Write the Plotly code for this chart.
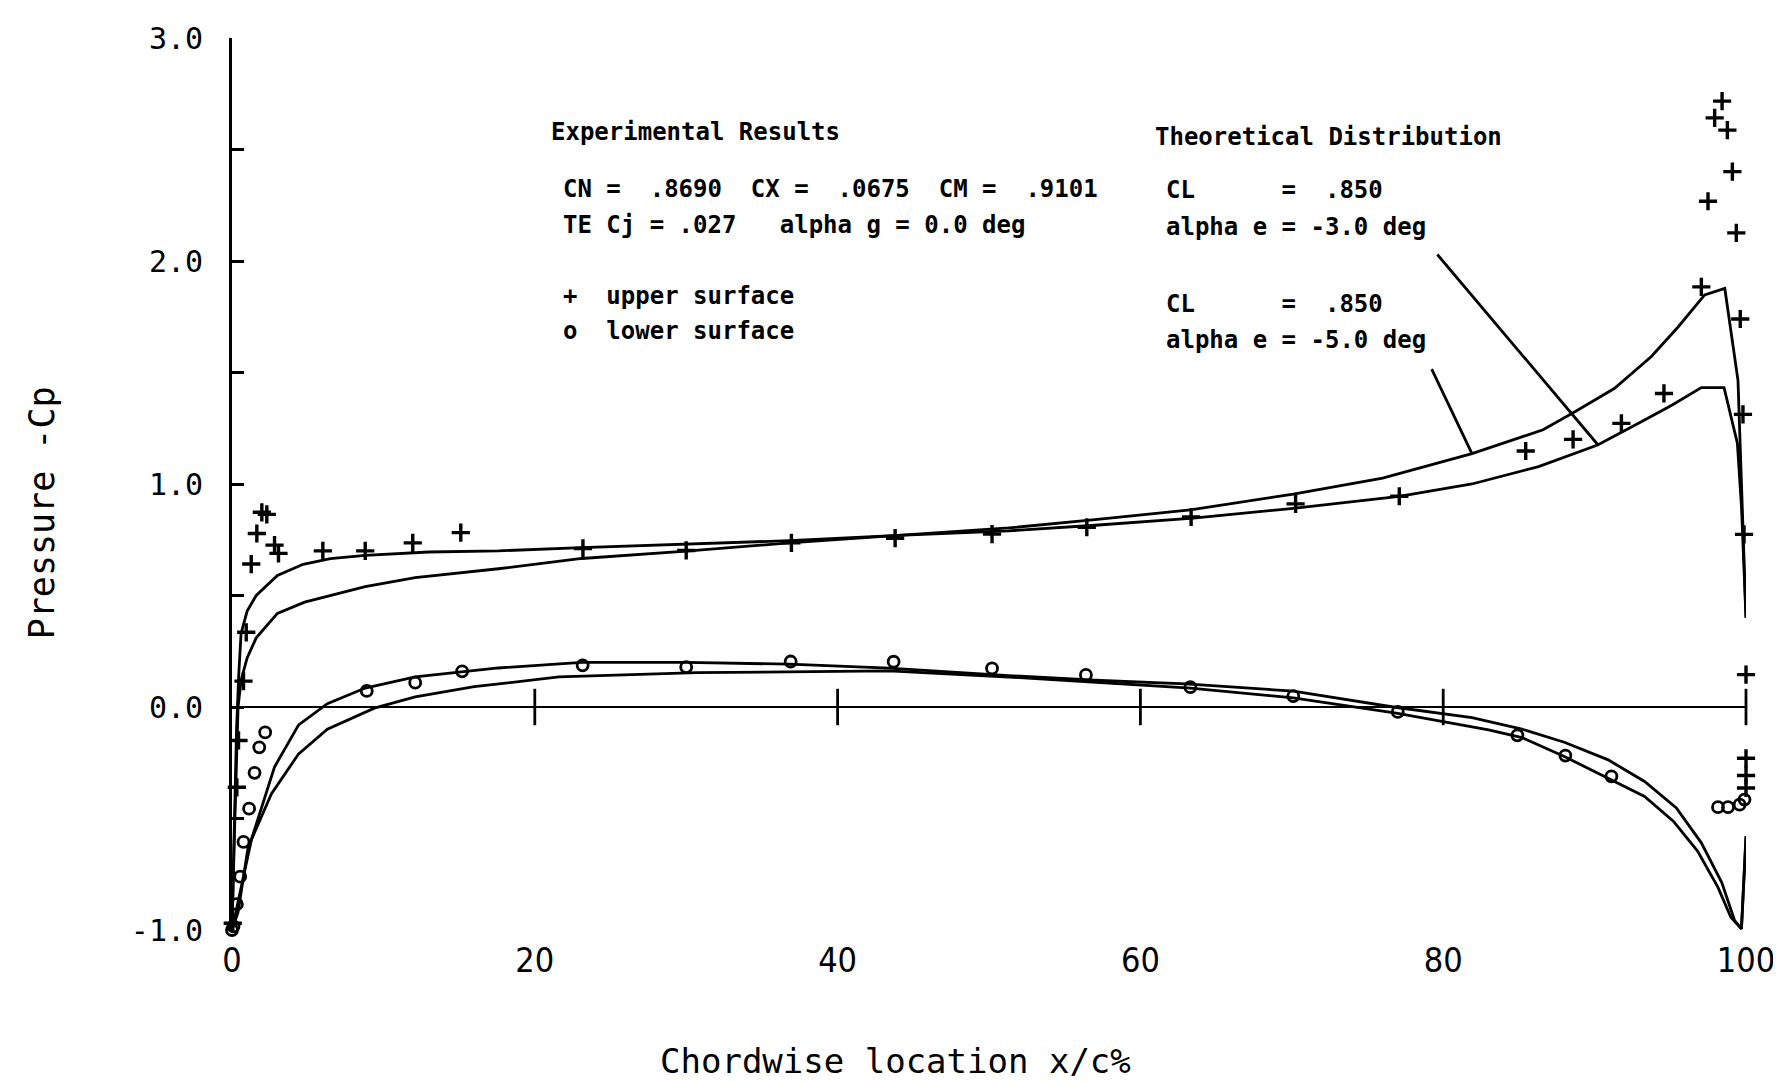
import plotly.graph_objects as go

# ---------------- data ----------------
x_ticks = [0, 20, 40, 60, 80, 100]
x_tick_text = ["0", "20", "40", "60", "80", "100"]
y_ticks = [-1.0, -0.5, 0.0, 0.5, 1.0, 1.5, 2.0, 2.5, 3.0]
y_tick_text = ["-1.0", "", "0.0", "", "1.0", "", "2.0", "", "3.0"]
zero_cross_ticks = [20, 40, 60, 80, 100]

# Theoretical distribution, alpha e = -5.0 deg
theo_a_upper_x = [0, 0.15, 0.3, 0.45, 0.6, 1.0, 1.6, 3.0, 4.7, 6.5, 8.8, 13, 17.6, 23.1, 30, 36.8, 44,
                  51.3, 57, 63.3, 70.1, 76, 81.9, 86.6, 88.7, 91.3, 93.75, 95.5, 97.27, 98.6, 99.47,
                  99.6, 99.8, 100]
theo_a_upper_cp = [-1.0, -0.55, -0.1, 0.15, 0.33, 0.43, 0.50, 0.59, 0.64, 0.665, 0.68, 0.695, 0.70,
                   0.715, 0.73, 0.746, 0.77, 0.803, 0.84, 0.884, 0.955, 1.026, 1.136, 1.243, 1.324,
                   1.428, 1.572, 1.703, 1.848, 1.877, 1.465, 1.183, 0.75, 0.40]
theo_a_lower_x = [0, 0.4, 1.3, 2.8, 4.4, 6.3, 8.8, 12.1, 17.6, 23.1, 30, 36.8, 43.4, 51.3, 57, 63,
                  70.1, 76.7, 81.9, 85.2, 88, 90.9, 93.3, 95.4, 97.05, 98.4, 99.25, 99.7, 100]
theo_a_lower_cp = [-1.0, -0.87, -0.59, -0.27, -0.08, 0.015, 0.085, 0.135, 0.175, 0.20, 0.20, 0.192,
                   0.174, 0.141, 0.12, 0.104, 0.071, 0.0, -0.048, -0.099, -0.158, -0.237, -0.334,
                   -0.453, -0.609, -0.787, -0.958, -0.995, -0.58]

# Theoretical distribution, alpha e = -3.0 deg
theo_b_upper_x = [0, 0.15, 0.3, 0.4, 0.6, 1.0, 1.6, 3.0, 4.8, 8.8, 12.1, 17.6, 23.1, 30, 36.8, 44,
                  51.3, 57, 63.5, 70.1, 77.1, 81.9, 86.3, 90.2, 92.9, 95.1, 97.05, 98.55, 99.43,
                  99.7, 100]
theo_b_upper_cp = [-1.0, -0.6, -0.2, 0.0, 0.12, 0.22, 0.31, 0.42, 0.47, 0.54, 0.58, 0.62, 0.666,
                   0.699, 0.736, 0.77, 0.79, 0.815, 0.847, 0.891, 0.945, 1.0, 1.078, 1.175, 1.272,
                   1.353, 1.432, 1.432, 1.183, 0.9, 0.40]
theo_b_lower_x = [0, 0.4, 1.06, 2.6, 4.4, 6.3, 9.4, 12.1, 16, 21.6, 30.7, 43.4, 52.8, 57, 63.3,
                  70.1, 77, 83, 85.2, 88, 90.9, 93.3, 95.2, 96.8, 98.15, 99, 99.7, 100]
theo_b_lower_cp = [-1.0, -0.92, -0.63, -0.39, -0.21, -0.10, -0.005, 0.045, 0.091, 0.135, 0.154,
                   0.162, 0.129, 0.11, 0.085, 0.041, -0.029, -0.103, -0.137, -0.222, -0.319,
                   -0.401, -0.512, -0.646, -0.809, -0.943, -0.995, -0.58]

# Experimental results
upper_x = [0.05, 0.32, 0.43, 0.76, 0.94, 1.27, 1.64, 1.97, 2.30, 2.81, 3.07, 6.0, 8.8, 11.94,
           15.11, 23.18, 30.0, 36.95, 43.8, 50.2, 56.46, 63.35, 70.25, 77.1, 85.45, 88.58, 91.77,
           94.58, 97.05, 97.49, 97.93, 98.42, 98.77, 99.10, 99.36, 99.62, 99.80, 99.87, 100.0,
           100.0, 100.0, 100.0]
upper_cp = [-0.97, -0.36, -0.15, 0.116, 0.335, 0.641, 0.778, 0.873, 0.864, 0.726, 0.689, 0.70,
            0.70, 0.736, 0.782, 0.711, 0.702, 0.736, 0.757, 0.775, 0.806, 0.852, 0.911, 0.945,
            1.148, 1.200, 1.272, 1.406, 1.884, 2.268, 2.642, 2.717, 2.587, 2.401, 2.126, 1.740,
            1.312, 0.774, 0.145, -0.230, -0.307, -0.363]
lower_x = [0.0, 0.10, 0.32, 0.54, 0.76, 1.13, 1.49, 1.80, 2.19, 8.9, 12.1, 15.2, 23.16, 30.0,
           36.9, 43.7, 50.2, 56.4, 63.3, 70.1, 77.0, 84.9, 88.07, 91.11, 98.15, 98.81, 99.58, 99.9]
lower_cp = [-1.0, -0.984, -0.884, -0.761, -0.605, -0.456, -0.295, -0.181, -0.114, 0.072, 0.109,
            0.16, 0.187, 0.179, 0.204, 0.203, 0.173, 0.144, 0.089, 0.049, -0.022, -0.127, -0.218,
            -0.311, -0.449, -0.449, -0.438, -0.415]

exp_title = "Experimental Results"
exp_lines = ["CN =  .8690  CX =  .0675  CM =  .9101",
             "TE Cj = .027   alpha g = 0.0 deg",
             "+  upper surface",
             "o  lower surface"]
theo_title = "Theoretical Distribution"
theo_lines = ["CL      =  .850", "alpha e = -3.0 deg", "CL      =  .850", "alpha e = -5.0 deg"]

# ---------------- figure ----------------
MONO = "DejaVu Sans Mono, Liberation Mono, monospace"
COND = "DejaVu Sans Condensed, DejaVu Sans Mono, sans-serif"
INK = "black"
LW = 2.8

fig = go.Figure()


def theory_trace(lx, lc, ux, uc):
    xs = list(reversed(lx)) + ux[1:]
    ys = list(reversed(lc)) + uc[1:]
    return go.Scatter(x=xs, y=ys, mode="lines", line=dict(color=INK, width=LW),
                      cliponaxis=False, hoverinfo="skip", showlegend=False)


fig.add_trace(theory_trace(theo_a_lower_x, theo_a_lower_cp, theo_a_upper_x, theo_a_upper_cp))
fig.add_trace(theory_trace(theo_b_lower_x, theo_b_lower_cp, theo_b_upper_x, theo_b_upper_cp))

# cross ticks on the zero line
fig.add_trace(go.Scatter(x=zero_cross_ticks, y=[0] * len(zero_cross_ticks), mode="markers",
                         marker=dict(symbol="line-ns", size=26, line=dict(color=INK, width=2.8)),
                         cliponaxis=False, hoverinfo="skip", showlegend=False))

fig.add_trace(go.Scatter(x=upper_x, y=upper_cp, mode="markers",
                         marker=dict(symbol="cross-thin", size=13, line=dict(color=INK, width=3.4)),
                         cliponaxis=False, showlegend=False))
fig.add_trace(go.Scatter(x=lower_x, y=lower_cp, mode="markers",
                         marker=dict(symbol="circle-open", size=11, color=INK,
                                     line=dict(color=INK, width=2.8)),
                         cliponaxis=False, showlegend=False))

L, R, T, B = 224, 43, 25, 160
W, H = 1781, 1082
PW, PH = W - L - R, H - T - B


def px(X):
    return (X - L) / PW


def py(Y):
    return (H - B - Y) / PH


nb = lambda s: s.replace(" ", "\u00a0")
annotations = []


def txt(s, X, Y, size=24, family=MONO, xanchor="left", angle=0, bold=True):
    label = "<b>" + nb(s) + "</b>" if bold else nb(s)
    annotations.append(dict(text=label, x=px(X), y=py(Y), xref="paper", yref="paper",
                            xanchor=xanchor, yanchor="middle", showarrow=False, textangle=angle,
                            font=dict(family=family, size=size, color=INK)))


txt(exp_title, 541, 120)
for s, Y in zip(exp_lines, [177, 213, 284, 320]):
    txt(s, 553, Y)
txt(theo_title, 1145, 125)
for s, Y in zip(theo_lines, [178, 215, 292, 329]):
    txt(s, 1156, Y)

txt("Chordwise location x/c%", 887, 1054, size=34, xanchor="center", bold=False)
txt("Pressure -Cp", 34, 503, size=35, xanchor="center", angle=-90, bold=False)

# leader lines from labels to curves
for hx, hy, ax, ay in [(90.23, 1.175, -162, -192), (81.9, 1.136, -41, -86)]:
    annotations.append(dict(x=hx, y=hy, xref="x", yref="y", text="", showarrow=True,
                            arrowhead=0, arrowwidth=2.8, arrowcolor=INK, ax=ax, ay=ay,
                            standoff=0, startstandoff=0))

fig.update_layout(
    width=W, height=H,
    margin=dict(l=L, r=R, t=T, b=B, pad=0),
    paper_bgcolor="white", plot_bgcolor="white",
    showlegend=False,
    annotations=annotations,
    xaxis=dict(range=[0, 100], tickvals=x_ticks, ticktext=x_tick_text, ticks="",
               showline=False, showgrid=False, zeroline=False, ticklabelstandoff=7,
               tickfont=dict(family=COND, size=34, color=INK)),
    yaxis=dict(range=[-1, 3], tickvals=y_ticks, ticktext=y_tick_text, ticks="inside",
               ticklen=12, tickwidth=2.6, tickcolor=INK,
               showline=True, linecolor=INK, linewidth=2.8, mirror=False,
               showgrid=False, zeroline=True, zerolinecolor=INK, zerolinewidth=2.4,
               ticklabelstandoff=20, tickfont=dict(family=MONO, size=30, color=INK)),
)

fig.write_html("out.html")
